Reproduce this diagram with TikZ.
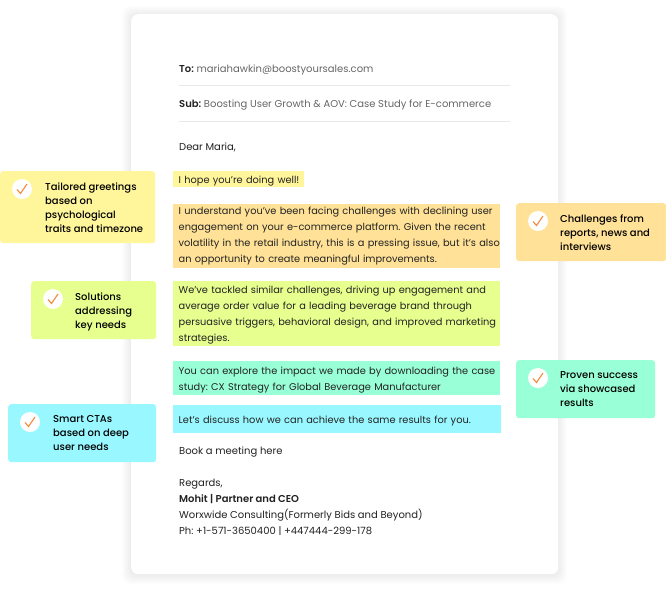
\documentclass[tikz,border=0pt]{standalone}
\usepackage{fontspec}
\setmainfont{Poppins}[BoldFont={Poppins SemiBold}]
\newfontfamily\medfont{Poppins Medium}
\definecolor{bodytext}{HTML}{222222}
\definecolor{headtext}{HTML}{666666}
\definecolor{hlyellow}{HTML}{FFF59B}
\definecolor{hlorange}{HTML}{FFE298}
\definecolor{hlgreen}{HTML}{E6FF8F}
\definecolor{hlteal}{HTML}{99FFD6}
\definecolor{hlcyan}{HTML}{99F8FF}
\definecolor{tickorange}{HTML}{F58A3C}
\tikzset{
  x=1pt,y=-1pt,
  mailtext/.style={anchor=west,inner sep=0pt,text=bodytext,font=\fontsize{10}{16}\selectfont\frenchspacing},
  hlbox/.style={anchor=north west,inner xsep=5.5pt,inner ysep=0pt,align=left,text=bodytext,font=\fontsize{9.8}{16}\selectfont\frenchspacing,execute at begin node={\rule{0pt}{#1}}},
  hlbox/.default=11pt,
  callout/.style={anchor=north west,rounded corners=3pt,minimum height=58pt,inner sep=0pt},
  calltext/.style={anchor=north west,inner sep=0pt,align=left,text=black,font=\medfont\fontsize{10}{14}\selectfont},
  tickdisc/.style={circle,fill=white,minimum size=20pt,inner sep=0pt},
  rule/.style={draw=black!9,line width=0.8pt},
}
\newcommand{\tickin}[1]{\draw[tickorange,line width=1.1pt] ([shift={(-5,0.5)}]#1.center) -- ([shift={(-1.5,4.5)}]#1.center) -- ([shift={(5,-5)}]#1.center);}
\begin{document}
\begin{tikzpicture}
\useasboundingbox (0,0) rectangle (666,590);
\fill[white] (0,0) rectangle (666,590);

% card with soft shadow
\foreach \g in {9,8,...,1} {
  \fill[black,opacity=0.009,rounded corners=8pt] (131-\g,14-\g+1) rectangle (558+\g,574+\g+1);
}
\node[fill=white,rounded corners=7pt,anchor=north west,minimum width=427pt,minimum height=560pt,inner sep=0pt] (card) at (131,14) {};

% header
\node[mailtext,text=headtext] (to) at (179,70) {\textcolor{bodytext}{\textbf{To:}} mariahawkin@boostyoursales.com};
\coordinate (toa) at (179,85.5);
\coordinate (tob) at (510,85.5);
\draw[rule] (toa) -- (tob);
\node[mailtext,text=headtext] (sub) at (179,105.5) {\textcolor{bodytext}{\textbf{Sub:}} Boosting User Growth \& AOV: Case Study for E-commerce};
\coordinate (suba) at (179,121.5);
\coordinate (subb) at (510,121.5);
\draw[rule] (suba) -- (subb);

% mail body
\node[mailtext] (dear) at (179,147) {Dear Maria,};
\node[hlbox,fill=hlyellow,minimum height=16pt,text width=120pt] (hope) at (173,171) {\mbox{I hope you’re doing well!}};
\node[hlbox=8pt,fill=hlorange,minimum height=64.5pt,text width=316pt] (problem) at (173,203.3) {\mbox{I understand you've been facing challenges with declining user}\\\mbox{engagement on your e-commerce platform. Given the recent}\\\mbox{volatility in the retail industry, this is a pressing issue, but it's also}\\\mbox{an opportunity to create meaningful improvements.}};
\node[hlbox,fill=hlgreen,minimum height=65pt,text width=316pt] (solution) at (173,281) {\mbox{We’ve tackled similar challenges, driving up engagement and}\\\mbox{average order value for a leading beverage brand through}\\\mbox{persuasive triggers, behavioral design, and improved marketing}\\strategies.};
\node[hlbox,fill=hlteal,minimum height=34pt,text width=316pt] (proof) at (173,361) {\mbox{You can explore the impact we made by downloading the case}\\\mbox{study: CX Strategy for Global Beverage Manufacturer}};
\node[hlbox,fill=hlcyan,minimum height=28pt,text width=317pt] (cta) at (173,405) {\mbox{Let’s discuss how we can achieve the same results for you.}};
\node[mailtext] (book) at (179,452) {Book a meeting here};
\node[mailtext,anchor=north west,align=left] (sign) at (179,478.5) {Regards,\\\textbf{Mohit | Partner and CEO}\\Worxwide Consulting(Formerly Bids and Beyond)\\Ph: +1-571-3650400 | +447444-299-178};

% callouts
\node[callout,fill=hlyellow,minimum width=155pt,minimum height=72pt] (c1) at (0,171) {};
\node[tickdisc] (d1) at (22,189) {};
\tickin{d1}
\node[calltext] (t1) at (45,183) {Tailored greetings\\based on\\psychological\\traits and timezone};

\node[callout,fill=hlgreen,minimum width=125pt] (c2) at (31,281) {};
\node[tickdisc] (d2) at (53,299) {};
\tickin{d2}
\node[calltext] (t2) at (75,292.5) {Solutions\\addressing\\key needs};

\node[callout,fill=hlcyan,minimum width=148pt] (c3) at (8,404) {};
\node[tickdisc] (d3) at (30,422) {};
\tickin{d3}
\node[calltext] (t3) at (53,415.5) {Smart CTAs\\based on deep\\user needs};

\node[callout,fill=hlorange,minimum width=150pt] (c4) at (516,203) {};
\node[tickdisc] (d4) at (538,221) {};
\tickin{d4}
\node[calltext] (t4) at (560,214.5) {Challenges from\\reports, news and\\interviews};

\node[callout,fill=hlteal,minimum width=139pt] (c5) at (516,360) {};
\node[tickdisc] (d5) at (538,378) {};
\tickin{d5}
\node[calltext] (t5) at (560,371.5) {Proven success\\via showcased\\results};
\end{tikzpicture}
\end{document}
